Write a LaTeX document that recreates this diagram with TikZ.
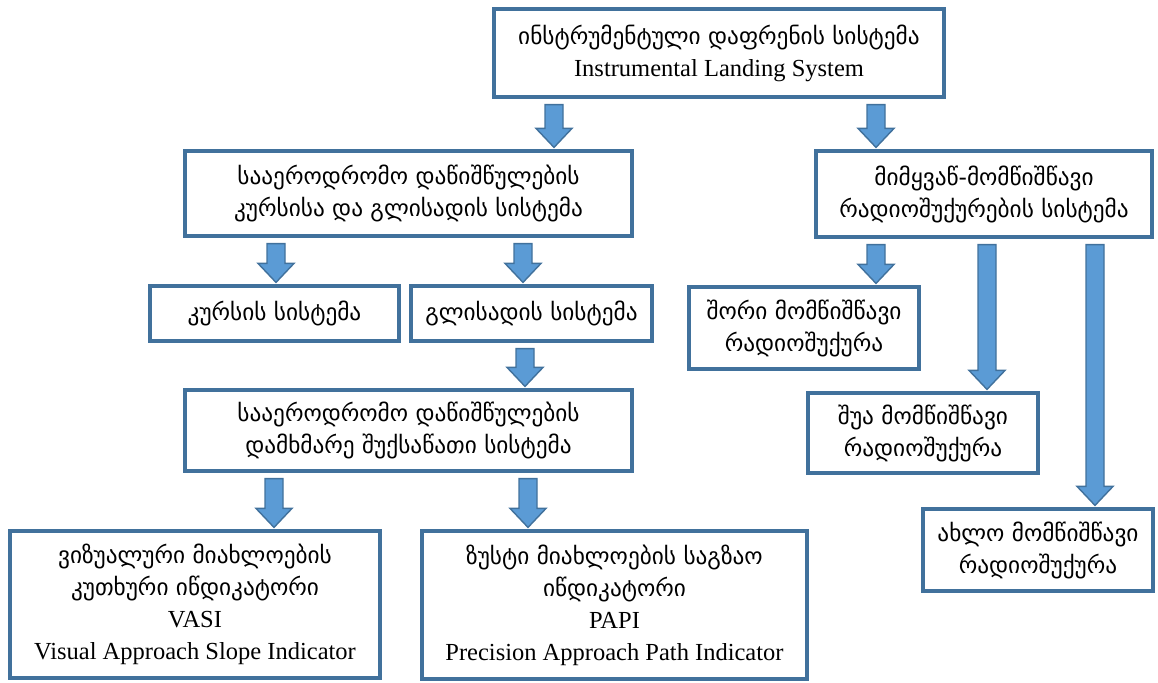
\documentclass[tikz,border=0pt]{standalone}
\usepackage{fontspec}
\setmainfont{Liberation Serif}
\newfontfamily\geofont{DejaVu Sans}[Scale=0.95]
\usetikzlibrary{calc}
\definecolor{bordc}{HTML}{41719C}
\definecolor{arrc}{HTML}{5B9BD5}
\newcommand\G[1]{{\geofont #1}}
\newcommand\blockarr[3]{%
  \path[barrow] let \p1=(#2.south), \p2=(#3.north) in
    (#1pt-9pt,\y1-6pt) -- (#1pt+9pt,\y1-6pt) -- (#1pt+9pt,\y2+21pt)
    -- (#1pt+18pt,\y2+21pt) -- (#1pt,\y2+2pt) -- (#1pt-18pt,\y2+21pt)
    -- (#1pt-9pt,\y2+21pt) -- cycle;}
\begin{document}
\begin{tikzpicture}[x=1pt,y=-1pt,
  box/.style={draw=bordc, line width=3.2pt, fill=white, align=center,
    inner sep=0pt, font=\fontsize{24.5}{32}\selectfont},
  barrow/.style={fill=arrc, draw=bordc, line width=1.4pt, line join=miter}]
\useasboundingbox (0,0) rectangle (1158,682);
\node[box, minimum width=450, minimum height=88] (ils) at (719,53)
  {\G{ინსტრუმენტული დაფრენის სისტემა}\\Instrumental Landing System};
\node[box, minimum width=447, minimum height=85] (crs) at (408.5,193.5)
  {\G{სააეროდრომო დაწიშწულების}\\\G{კურსისა და გლისადის სისტემა}};
\node[box, minimum width=336, minimum height=86] (mrk) at (984,194)
  {\G{მიმყვაწ-მომწიშწავი}\\\G{რადიოშუქურების სისტემა}};
\node[box, minimum width=249, minimum height=55] (kurs) at (274.5,313.5)
  {\G{კურსის სისტემა}};
\node[box, minimum width=241, minimum height=55] (glis) at (531.5,313.5)
  {\G{გლისადის სისტემა}};
\node[box, minimum width=447, minimum height=81] (aux) at (408.5,430.5)
  {\G{სააეროდრომო დაწიშწულების}\\\G{დამხმარე შუქსაწათი სისტემა}};
\node[box, minimum width=370, minimum height=147] (vasi) at (195,604.5)
  {\G{ვიზუალური მიახლოების}\\\G{კუთხური იწდიკატორი}\\VASI\\Visual Approach Slope Indicator};
\node[box, minimum width=385, minimum height=148] (papi) at (614.5,605)
  {\G{ზუსტი მიახლოების საგზაო}\\\G{იწდიკატორი}\\PAPI\\Precision Approach Path Indicator};
\node[box, minimum width=230, minimum height=82] (shori) at (804,328)
  {\G{შორი მომწიშწავი}\\\G{რადიოშუქურა}};
\node[box, minimum width=230, minimum height=80] (shua) at (923,433)
  {\G{შუა მომწიშწავი}\\\G{რადიოშუქურა}};
\node[box, minimum width=230, minimum height=82] (akhlo) at (1038,550)
  {\G{ახლო მომწიშწავი}\\\G{რადიოშუქურა}};
\blockarr{554}{ils}{crs}
\blockarr{876}{ils}{mrk}
\blockarr{276}{crs}{kurs}
\blockarr{523}{crs}{glis}
\blockarr{525}{glis}{aux}
\blockarr{274}{aux}{vasi}
\blockarr{528}{aux}{papi}
\blockarr{876}{mrk}{shori}
\blockarr{987}{mrk}{shua}
\blockarr{1095}{mrk}{akhlo}
\end{tikzpicture}
\end{document}
